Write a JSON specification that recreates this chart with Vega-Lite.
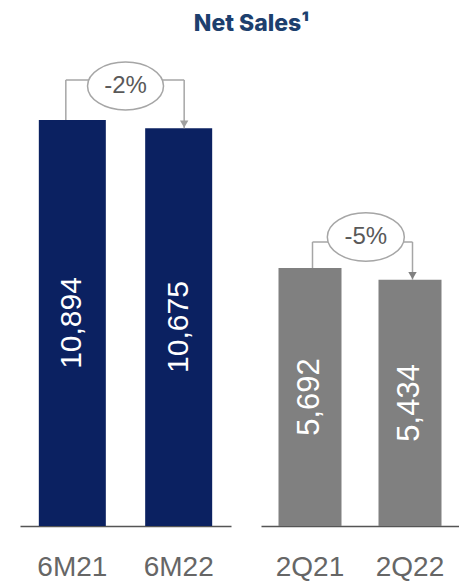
{
  "$schema": "https://vega.github.io/schema/vega-lite/v6.json",
  "background": "white",
  "padding": {"top": 13, "left": 20, "right": 0, "bottom": 0},
  "title": {"text": "Net Sales¹", "font": "Inter", "fontSize": 23, "fontWeight": 800, "color": "#1d3f6e", "anchor": "middle", "offset": 4, "dx": 12},
  "config": {"view": {"stroke": null}},
  "datasets": {
    "sales": [
      {"group": "6M", "period": "6M21", "value": 10894},
      {"group": "6M", "period": "6M22", "value": 10675},
      {"group": "2Q", "period": "2Q21", "value": 5692},
      {"group": "2Q", "period": "2Q22", "value": 5434}
    ],
    "changes": [
      {"group": "6M", "from": "6M21", "to": "6M22", "fromValue": 10894, "toValue": 10675, "level": 11967, "label": "-2%"},
      {"group": "2Q", "from": "2Q21", "to": "2Q22", "fromValue": 5692, "toValue": 5434, "level": 6265, "label": "-5%"}
    ]
  },
  "spacing": 30,
  "hconcat": [
    {
      "width": 211,
      "height": 486,
      "resolve": {"scale": {"y": "independent"}},
      "layer": [
        {
          "data": {"name": "sales"},
          "transform": [{"filter": "datum.group === '6M'"}],
          "mark": {"type": "bar", "color": "#0b2161"},
          "encoding": {
            "x": {"field": "period", "type": "nominal", "sort": null, "scale": {"paddingInner": 0.37, "paddingOuter": 0.177},
                  "axis": {"title": null, "ticks": false, "tickSize": 0, "labelPadding": 27, "labelFont": "Liberation Sans", "labelFontSize": 28, "labelColor": "#666666", "domainColor": "#555555", "domainWidth": 1.5, "labelAngle": 0}},
            "y": {"field": "value", "type": "quantitative", "scale": {"domain": [0, 13040]}, "axis": null}
          }
        },
        {
          "data": {"name": "sales"},
          "transform": [{"filter": "datum.group === '6M'"}],
          "mark": {"type": "text", "angle": 270, "align": "center", "baseline": "middle", "font": "Liberation Sans", "fontSize": 30, "color": "white"},
          "encoding": {
            "x": {"field": "period", "type": "nominal", "sort": null},
            "y": {"field": "value", "type": "quantitative", "scale": {"domain": [0, 26080]}, "axis": null},
            "text": {"field": "value", "type": "quantitative", "format": ","}
          }
        },
        {
          "data": {"name": "changes"},
          "transform": [{"filter": "datum.group === '6M'"}],
          "mark": {"type": "rule", "color": "#a6a6a6", "strokeWidth": 1.5, "xOffset": -6.5},
          "encoding": {
            "x": {"field": "from", "type": "nominal"},
            "y": {"field": "fromValue", "type": "quantitative", "scale": {"domain": [0, 13040]}, "axis": null},
            "y2": {"field": "level"}
          }
        },
        {
          "data": {"name": "changes"},
          "transform": [{"filter": "datum.group === '6M'"}],
          "mark": {"type": "rule", "color": "#a6a6a6", "strokeWidth": 1.5, "xOffset": 5.5},
          "encoding": {
            "x": {"field": "to", "type": "nominal"},
            "y": {"field": "toValue", "type": "quantitative", "scale": {"domain": [0, 13040]}, "axis": null},
            "y2": {"field": "level"}
          }
        },
        {
          "data": {"name": "changes"},
          "transform": [{"filter": "datum.group === '6M'"}],
          "mark": {"type": "rule", "color": "#a6a6a6", "strokeWidth": 1.5, "xOffset": -6.5, "x2Offset": 5.5},
          "encoding": {
            "x": {"field": "from", "type": "nominal"},
            "x2": {"field": "to"},
            "y": {"field": "level", "type": "quantitative", "scale": {"domain": [0, 13040]}, "axis": null}
          }
        },
        {
          "data": {"name": "changes"},
          "transform": [{"filter": "datum.group === '6M'"}],
          "mark": {"type": "point", "shape": "triangle-down", "filled": true, "color": "#a0a0a0", "opacity": 1, "size": 70, "xOffset": 5.5, "yOffset": -4},
          "encoding": {
            "x": {"field": "to", "type": "nominal"},
            "y": {"field": "toValue", "type": "quantitative", "scale": {"domain": [0, 13040]}, "axis": null}
          }
        },
        {
          "data": {"name": "changes"},
          "transform": [{"filter": "datum.group === '6M'"}],
          "mark": {"type": "point", "shape": "M-1,0A1,0.63,0,1,0,1,0A1,0.63,0,1,0,-1,0Z", "filled": false, "fill": "white", "fillOpacity": 1, "stroke": "#a6a6a6", "strokeWidth": 1.5, "opacity": 1, "size": 5776, "yOffset": 6},
          "encoding": {
            "x": {"field": "from", "type": "nominal", "bandPosition": 1.294},
            "y": {"field": "level", "type": "quantitative", "scale": {"domain": [0, 13040]}, "axis": null}
          }
        },
        {
          "data": {"name": "changes"},
          "transform": [{"filter": "datum.group === '6M'"}],
          "mark": {"type": "text", "font": "Liberation Sans", "fontSize": 24, "color": "#595959", "align": "center", "baseline": "middle", "yOffset": 6},
          "encoding": {
            "x": {"field": "from", "type": "nominal", "bandPosition": 1.294},
            "y": {"field": "level", "type": "quantitative", "scale": {"domain": [0, 13040]}, "axis": null},
            "text": {"field": "label"}
          }
        }
      ]
    },
    {
      "width": 198,
      "height": 486,
      "resolve": {"scale": {"y": "independent"}},
      "layer": [
        {
          "data": {"name": "sales"},
          "transform": [{"filter": "datum.group === '2Q'"}],
          "mark": {"type": "bar", "color": "#808080"},
          "encoding": {
            "x": {"field": "period", "type": "nominal", "sort": null, "scale": {"paddingInner": 0.37, "paddingOuter": 0.175},
                  "axis": {"title": null, "ticks": false, "tickSize": 0, "labelPadding": 27, "labelFont": "Liberation Sans", "labelFontSize": 28, "labelColor": "#666666", "domainColor": "#555555", "domainWidth": 1.5, "labelAngle": 0}},
            "y": {"field": "value", "type": "quantitative", "scale": {"domain": [0, 10722]}, "axis": null}
          }
        },
        {
          "data": {"name": "sales"},
          "transform": [{"filter": "datum.group === '2Q'"}],
          "mark": {"type": "text", "angle": 270, "align": "center", "baseline": "middle", "font": "Liberation Sans", "fontSize": 31, "color": "white"},
          "encoding": {
            "x": {"field": "period", "type": "nominal", "sort": null},
            "y": {"field": "value", "type": "quantitative", "scale": {"domain": [0, 21444]}, "axis": null},
            "text": {"field": "value", "type": "quantitative", "format": ","}
          }
        },
        {
          "data": {"name": "changes"},
          "transform": [{"filter": "datum.group === '2Q'"}],
          "mark": {"type": "rule", "color": "#a6a6a6", "strokeWidth": 1.5, "xOffset": 2.5},
          "encoding": {
            "x": {"field": "from", "type": "nominal"},
            "y": {"field": "fromValue", "type": "quantitative", "scale": {"domain": [0, 10722]}, "axis": null},
            "y2": {"field": "level"}
          }
        },
        {
          "data": {"name": "changes"},
          "transform": [{"filter": "datum.group === '2Q'"}],
          "mark": {"type": "rule", "color": "#a6a6a6", "strokeWidth": 1.5, "xOffset": 2.5},
          "encoding": {
            "x": {"field": "to", "type": "nominal"},
            "y": {"field": "toValue", "type": "quantitative", "scale": {"domain": [0, 10722]}, "axis": null},
            "y2": {"field": "level"}
          }
        },
        {
          "data": {"name": "changes"},
          "transform": [{"filter": "datum.group === '2Q'"}],
          "mark": {"type": "rule", "color": "#a6a6a6", "strokeWidth": 1.5, "xOffset": 2.5, "x2Offset": 2.5},
          "encoding": {
            "x": {"field": "from", "type": "nominal"},
            "x2": {"field": "to"},
            "y": {"field": "level", "type": "quantitative", "scale": {"domain": [0, 10722]}, "axis": null}
          }
        },
        {
          "data": {"name": "changes"},
          "transform": [{"filter": "datum.group === '2Q'"}],
          "mark": {"type": "point", "shape": "triangle-down", "filled": true, "color": "#808080", "opacity": 1, "size": 70, "xOffset": 2.5, "yOffset": -4},
          "encoding": {
            "x": {"field": "to", "type": "nominal"},
            "y": {"field": "toValue", "type": "quantitative", "scale": {"domain": [0, 10722]}, "axis": null}
          }
        },
        {
          "data": {"name": "changes"},
          "transform": [{"filter": "datum.group === '2Q'"}],
          "mark": {"type": "point", "shape": "M-1,0A1,0.63,0,1,0,1,0A1,0.63,0,1,0,-1,0Z", "filled": false, "fill": "white", "fillOpacity": 1, "stroke": "#a6a6a6", "strokeWidth": 1.5, "opacity": 1, "size": 5929, "yOffset": -5},
          "encoding": {
            "x": {"field": "from", "type": "nominal", "bandPosition": 1.386},
            "y": {"field": "level", "type": "quantitative", "scale": {"domain": [0, 10722]}, "axis": null}
          }
        },
        {
          "data": {"name": "changes"},
          "transform": [{"filter": "datum.group === '2Q'"}],
          "mark": {"type": "text", "font": "Liberation Sans", "fontSize": 24, "color": "#595959", "align": "center", "baseline": "middle", "yOffset": -5},
          "encoding": {
            "x": {"field": "from", "type": "nominal", "bandPosition": 1.386},
            "y": {"field": "level", "type": "quantitative", "scale": {"domain": [0, 10722]}, "axis": null},
            "text": {"field": "label"}
          }
        }
      ]
    }
  ]
}
